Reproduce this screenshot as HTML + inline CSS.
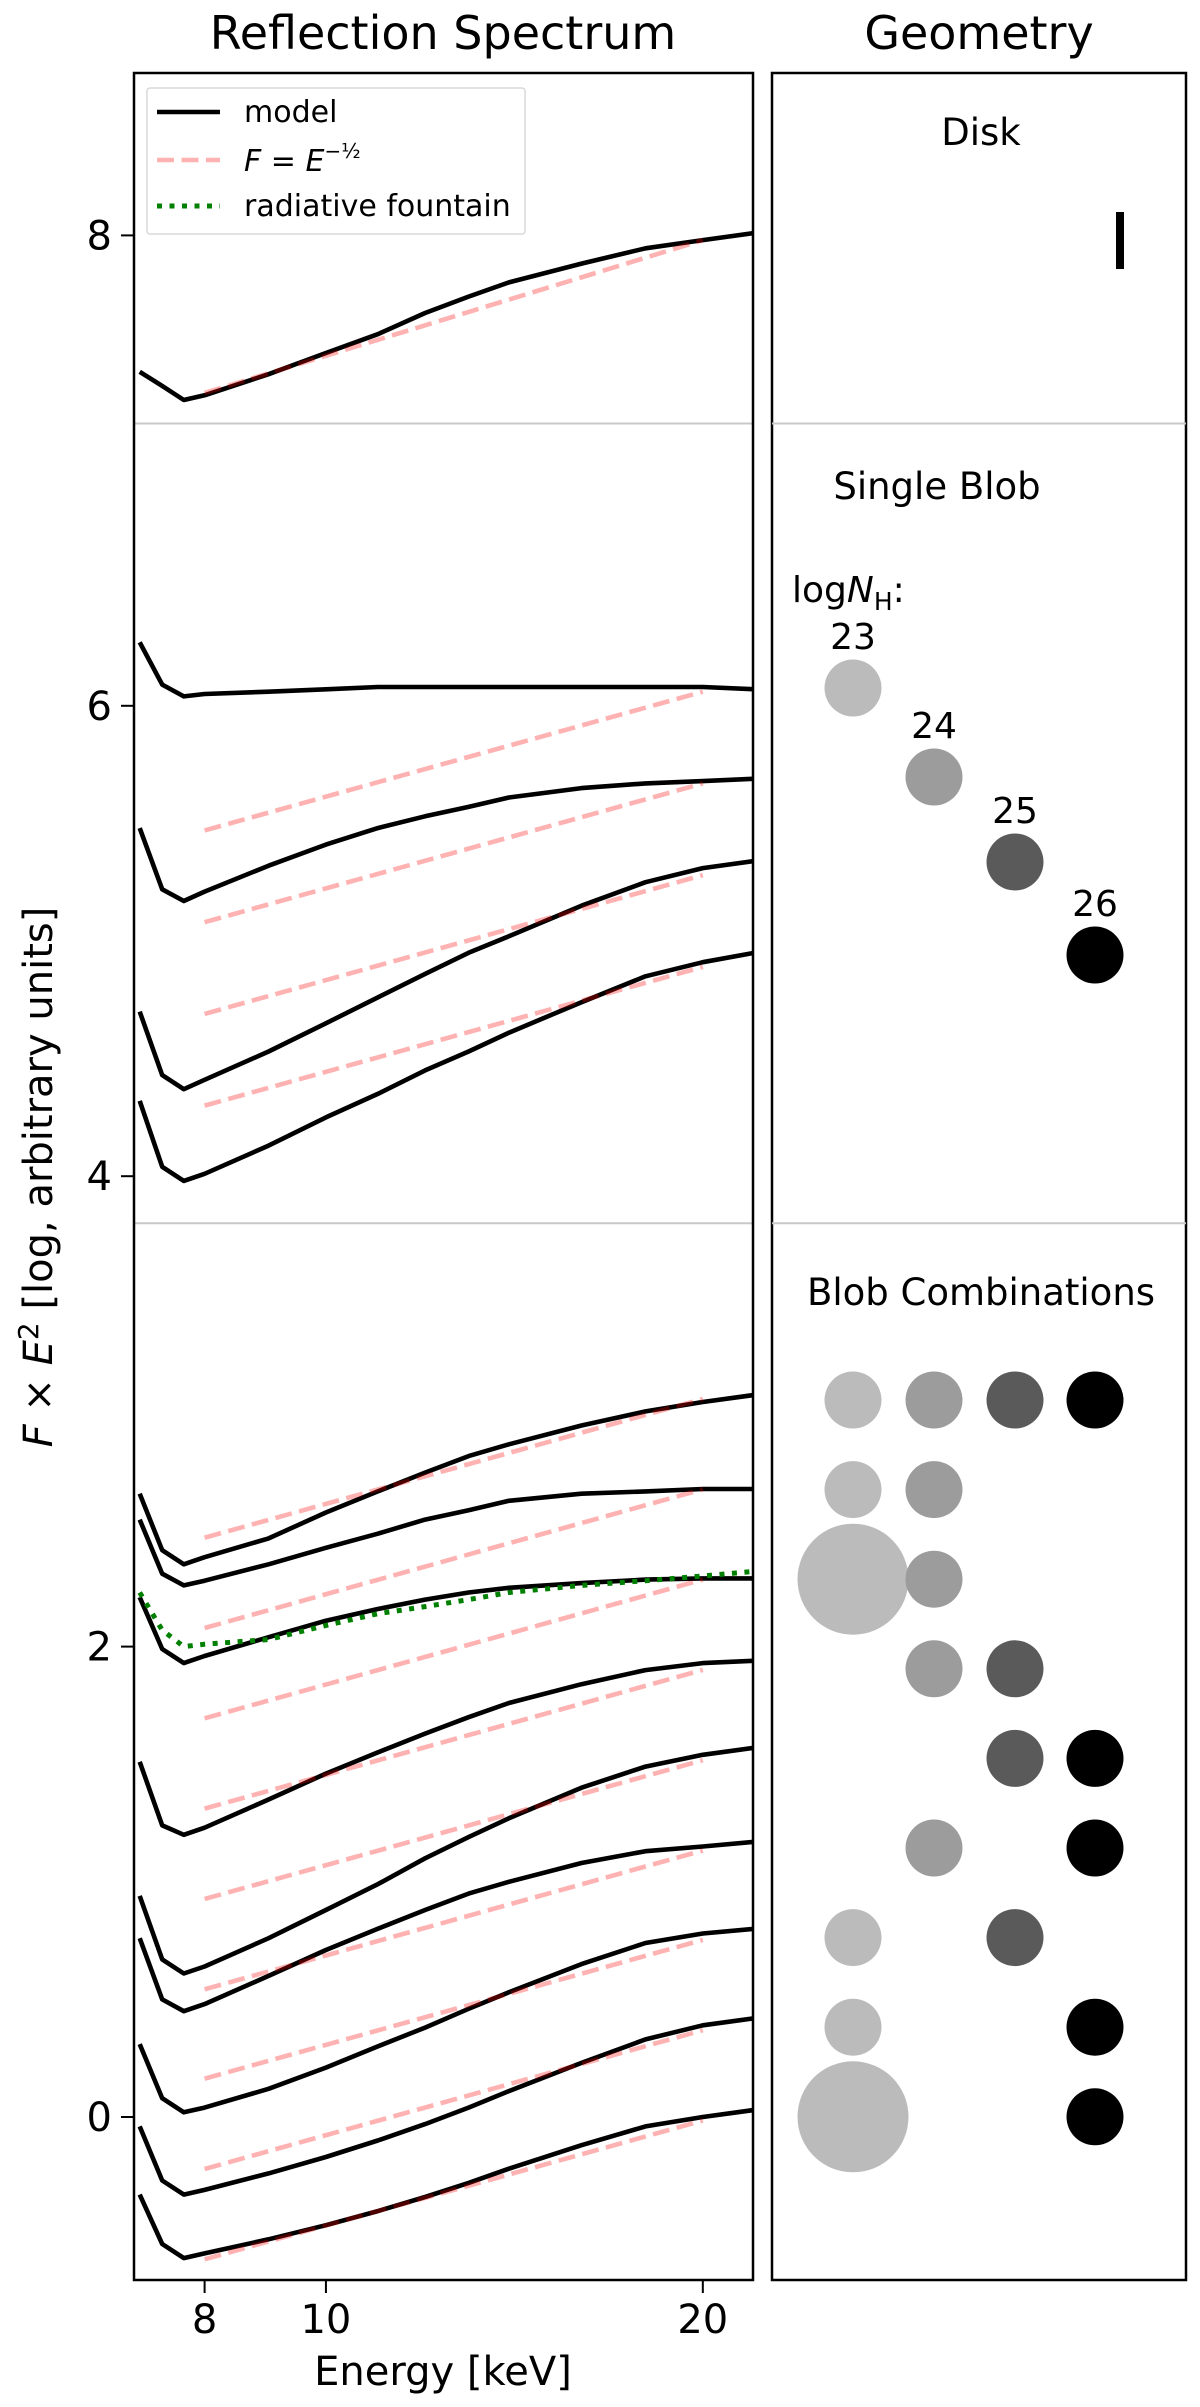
<!DOCTYPE html>
<html><head><meta charset="utf-8"><style>
html,body{margin:0;padding:0;background:#fff;}
svg{display:block;font-family:"DejaVu Sans","Liberation Sans",sans-serif;}
</style></head><body>
<svg id="fig" width="1200" height="2407" viewBox="0 0 1200 2407" xmlns="http://www.w3.org/2000/svg">
<rect width="1200" height="2407" fill="#fff"/>
<text x="443" y="49" font-size="46" text-anchor="middle">Reflection Spectrum</text>
<text x="979" y="49" font-size="46" text-anchor="middle">Geometry</text>
<g id="plot"></g>
<g id="geo"></g>
</svg>
<script>
const energies = [7.1,7.4,7.7,8,9,10,11,12,13,14,16,18,20,22];
const diskModel = [7.42,7.36,7.30,7.32,7.41,7.50,7.58,7.67,7.74,7.80,7.88,7.945,7.98,8.01];
const blob23 = [6.27,6.09,6.04,6.05,6.06,6.07,6.08,6.08,6.08,6.08,6.08,6.08,6.08,6.07];
const blob24 = [5.48,5.22,5.17,5.21,5.32,5.41,5.48,5.53,5.57,5.61,5.65,5.67,5.68,5.69];
const blob25 = [4.70,4.43,4.37,4.41,4.53,4.65,4.76,4.86,4.95,5.02,5.15,5.25,5.31,5.34];
const blob26 = [4.32,4.04,3.98,4.01,4.13,4.25,4.35,4.45,4.53,4.61,4.74,4.85,4.91,4.95];
const combo1 = [2.65,2.41,2.35,2.38,2.46,2.57,2.66,2.74,2.81,2.86,2.94,3.00,3.04,3.07];
const combo2 = [2.54,2.31,2.26,2.28,2.35,2.42,2.48,2.54,2.58,2.62,2.65,2.66,2.67,2.67];
const combo3 = [2.21,1.99,1.93,1.96,2.04,2.11,2.16,2.20,2.23,2.25,2.27,2.285,2.29,2.29];
const combo4 = [1.51,1.24,1.20,1.23,1.35,1.46,1.55,1.63,1.70,1.76,1.84,1.90,1.93,1.94];
const combo5 = [0.94,0.67,0.61,0.64,0.76,0.88,0.99,1.10,1.19,1.27,1.40,1.49,1.54,1.57];
const combo6 = [0.76,0.50,0.45,0.48,0.60,0.71,0.80,0.88,0.95,1.00,1.08,1.13,1.15,1.17];
const combo7 = [0.31,0.08,0.02,0.04,0.12,0.21,0.30,0.38,0.46,0.53,0.65,0.74,0.78,0.80];
const combo8 = [-0.04,-0.27,-0.33,-0.31,-0.24,-0.17,-0.10,-0.03,0.04,0.11,0.23,0.33,0.39,0.42];
const combo9 = [-0.33,-0.54,-0.60,-0.58,-0.52,-0.46,-0.40,-0.34,-0.28,-0.22,-0.12,-0.04,0.00,0.03];
const fountain = [2.23,2.07,2.00,2.01,2.03,2.09,2.14,2.17,2.20,2.23,2.26,2.28,2.30,2.32];
const dashStart = [7.33,5.47,5.08,4.69,4.30,2.463,2.079,1.695,1.311,0.927,0.543,0.163,-0.221,-0.605];
const dashEnd   = [7.98,6.06,5.67,5.28,4.89,3.053,2.669,2.285,1.901,1.517,1.133,0.753,0.369,-0.015];
const dashE = [8,20];
const yTicks = [0,2,4,6,8];
const xTicks = [8,10,20];
const sectionBreaks = [7.2,3.8];

const NS="http://www.w3.org/2000/svg";
const L=134,R=753,T=73,B=2280;
const xS=e=>204.6+(Math.log10(e)-Math.log10(8))*1252;
const yS=v=>2117-v*235.2;
function mk(tag,attrs,parent){const el=document.createElementNS(NS,tag);for(const k in attrs)el.setAttribute(k,attrs[k]);parent.appendChild(el);return el;}
const plot=document.getElementById('plot');
const geo=document.getElementById('geo');
const clip=mk('clipPath',{id:'pc'},plot);mk('rect',{x:L,y:T,width:R-L,height:B-T},clip);
const inner=mk('g',{'clip-path':'url(#pc)'},plot);

sectionBreaks.forEach(v=>{
  const l=mk('line',{x1:L,x2:R,y1:yS(v),y2:yS(v),stroke:'#c8c8c8','stroke-width':2},inner);
  
  
});
const models=[diskModel,blob23,blob24,blob25,blob26,combo1,combo2,combo3,combo4,combo5,combo6,combo7,combo8,combo9];
models.forEach((s,i)=>{
  const p=mk('polyline',{points:s.map((v,j)=>xS(energies[j]).toFixed(1)+','+yS(v).toFixed(1)).join(' '),fill:'none',stroke:'#000','stroke-width':4.6,'stroke-linejoin':'round'},inner);
  
  
});
const fp=mk('polyline',{points:fountain.map((v,j)=>xS(energies[j]).toFixed(1)+','+yS(v).toFixed(1)).join(' '),fill:'none',stroke:'#008000','stroke-width':5,'stroke-dasharray':'5 7.5'},inner);


dashStart.forEach((v,i)=>{
  const d=mk('line',{x1:xS(dashE[0]),y1:yS(v),x2:xS(dashE[1]),y2:yS(dashEnd[i]),stroke:'rgba(255,0,0,0.3)','stroke-width':4.6,'stroke-dasharray':'17 7.5'},inner);
  
  
});
const frame=mk('rect',{x:L,y:T,width:R-L,height:B-T,fill:'none',stroke:'#000','stroke-width':2.5},plot);


yTicks.forEach(t=>{
  const tk=mk('line',{x1:L-13,x2:L,y1:yS(t),y2:yS(t),stroke:'#000','stroke-width':2},plot);
  
  
  const tx=mk('text',{x:L-22,y:yS(t)+14,'font-size':40,'text-anchor':'end'},plot);
  tx.textContent=t;
  
  
});
xTicks.forEach(t=>{
  const tk=mk('line',{x1:xS(t),x2:xS(t),y1:B,y2:B+13,stroke:'#000','stroke-width':2},plot);
  
  
  const tx=mk('text',{x:xS(t),y:2333,'font-size':40,'text-anchor':'middle'},plot);
  tx.textContent=t;
  
  
});
const xl=mk('text',{x:443,y:2385,'font-size':40,'text-anchor':'middle'},plot);
xl.textContent='Energy [keV]';


const yl=mk('text',{x:0,y:0,'font-size':40,'text-anchor':'middle',transform:'translate(52,1177) rotate(-90)'},plot);
yl.innerHTML='<tspan font-style="italic">F</tspan> × <tspan font-style="italic">E</tspan><tspan dy="-14" font-size="28">2</tspan><tspan dy="14"> [log, arbitrary units]</tspan>';



// legend
const lg=mk('g',{},plot);


mk('rect',{x:147,y:88,width:378,height:146,rx:3,fill:'#fff',stroke:'#d8d8d8','stroke-width':1.5,'fill-opacity':0.8},lg);
mk('line',{x1:157,x2:220,y1:112,y2:112,stroke:'#000','stroke-width':4.6},lg);
mk('line',{x1:157,x2:220,y1:160,y2:160,stroke:'rgba(255,0,0,0.3)','stroke-width':4.6,'stroke-dasharray':'17 7.5'},lg);
mk('line',{x1:157,x2:220,y1:206,y2:206,stroke:'#008000','stroke-width':5,'stroke-dasharray':'5 7.5'},lg);
const t1=mk('text',{x:244,y:122,'font-size':30},lg);t1.textContent='model';


const t2=mk('text',{x:244,y:171,'font-size':30},lg);
t2.innerHTML='<tspan font-style="italic">F</tspan> = <tspan font-style="italic">E</tspan><tspan dy="-13" font-size="20">−½</tspan>';


const t3=mk('text',{x:244,y:216,'font-size':30},lg);t3.textContent='radiative fountain';



// geometry panel
const GL=772,GR=1186;
const gf=mk('rect',{x:GL,y:T,width:GR-GL,height:B-T,fill:'none',stroke:'#000','stroke-width':2.5},geo);


[yS(7.2),yS(3.8)].forEach(y=>{
  const l=mk('line',{x1:GL,x2:GR,y1:y,y2:y,stroke:'#c8c8c8','stroke-width':2},geo);
  
  
});
function label(txt,x,y,name,size){const t=mk('text',{x:x,y:y,'font-size':size||37,'text-anchor':'middle'},geo);t.textContent=txt;return t;}
label('Disk',981,145,'disk-label');
label('Single Blob',937,499,'single-blob-label');
label('Blob Combinations',981,1305,'blob-combinations-label');
const bar=mk('rect',{x:1116,y:212,width:8,height:57,fill:'#000'},geo);


const lg2=mk('text',{x:792,y:602,'font-size':36},geo);
lg2.innerHTML='log<tspan font-style="italic">N</tspan><tspan dy="8" font-size="25">H</tspan><tspan dy="-8">:</tspan>';


const cols=[853,934,1015,1095];
const shades=['#bbbbbb','#9c9c9c','#5a5a5a','#000000'];
const singleY=[688,777,862,955];
['23','24','25','26'].forEach((n,i)=>{
  const c=mk('circle',{cx:cols[i],cy:singleY[i],r:28.5,fill:shades[i]},geo);
  
  
  label(n,cols[i],singleY[i]-39,'blob-'+n+'-label',36);
});
const combos=[[0,1,2,3],[0,1],['B',1],[1,2],[2,3],[1,3],[0,2],[0,3],['B',3]];
combos.forEach((row,r)=>{
  const cy=1400+r*89.6;
  row.forEach(k=>{
    const big=k==='B';const ci=big?0:k;
    const c=mk('circle',{cx:cols[ci],cy:cy,r:big?55.5:28.5,fill:shades[ci]},geo);
    
    
  });
});
</script>
</body></html>
